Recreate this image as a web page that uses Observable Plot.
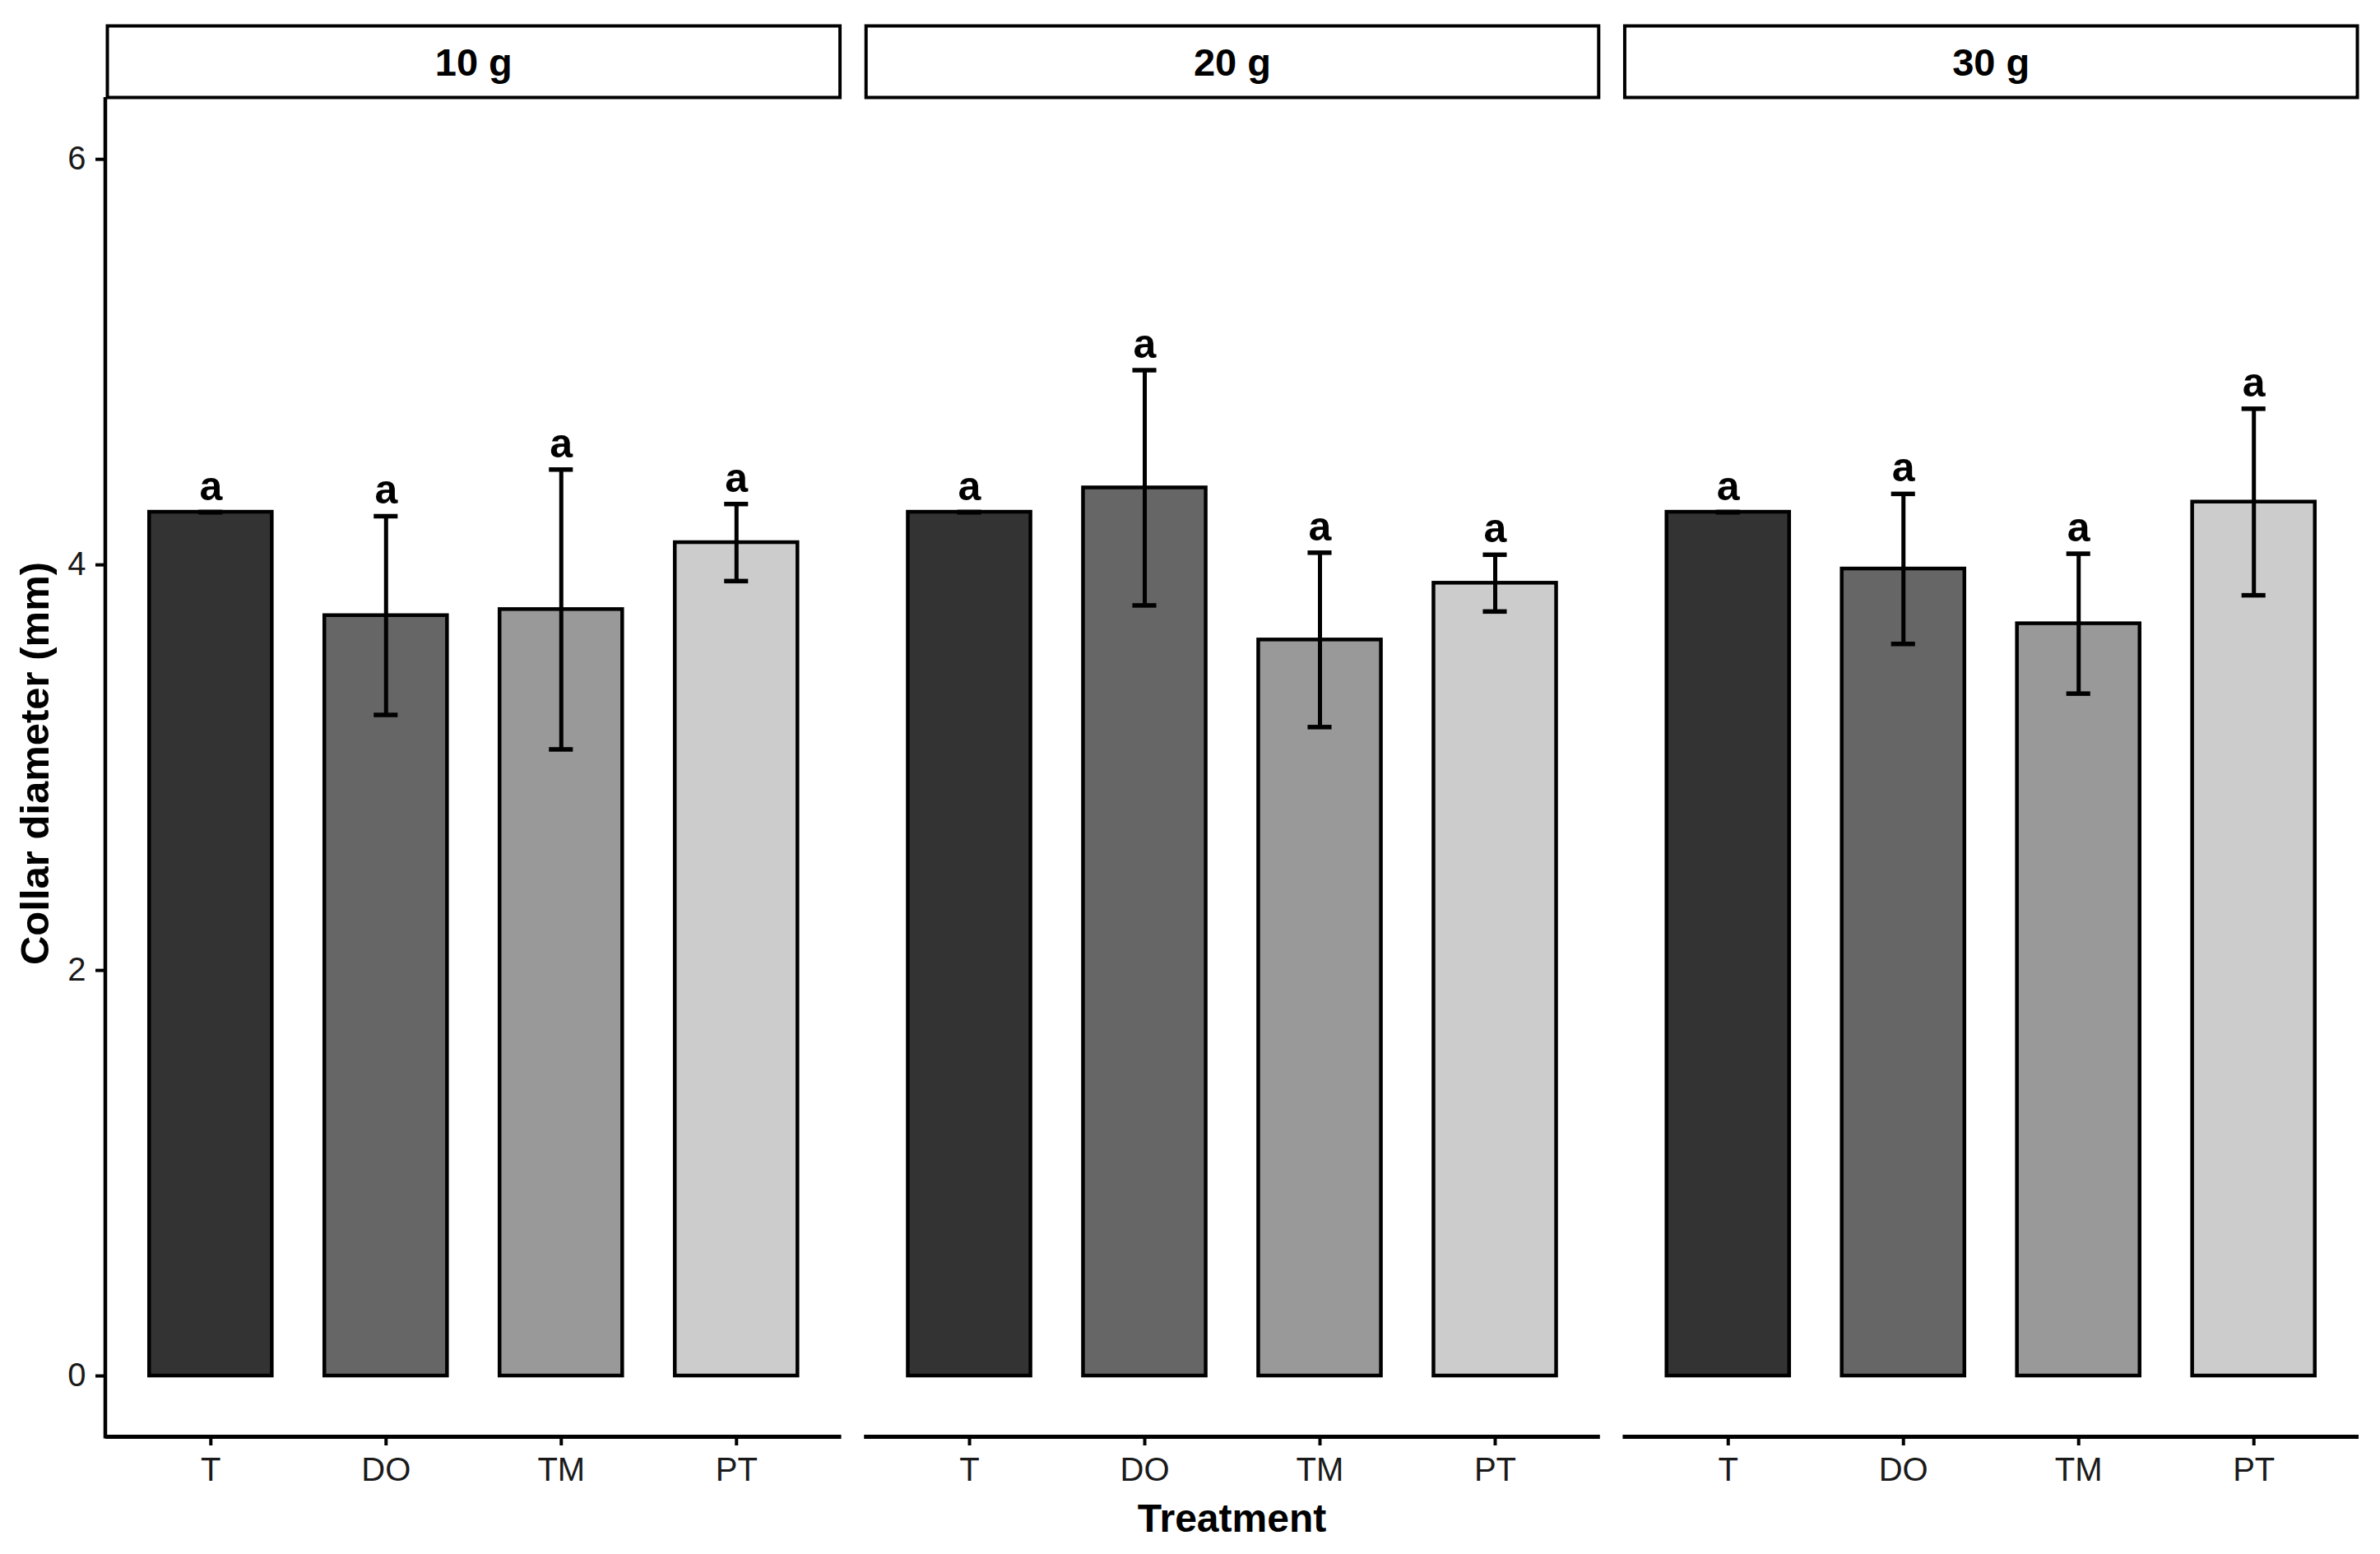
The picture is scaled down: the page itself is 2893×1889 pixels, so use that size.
<!DOCTYPE html>
<html><head><meta charset="utf-8">
<script src="https://cdn.jsdelivr.net/npm/d3@7"></script>
<script src="https://cdn.jsdelivr.net/npm/@observablehq/plot@0.6"></script>
<style>
html,body{margin:0;padding:0;background:#fff;}
#chart svg{display:block;}
</style></head><body><div id="chart"></div>
<script>
// ---- data ----
const doses = ["10 g", "20 g", "30 g"];
const treatments = ["T", "DO", "TM", "PT"];
const fills = ["#333333", "#666666", "#999999", "#cccccc"];
const mean10 = [4.26, 3.75, 3.78, 4.11];
const se10   = [0.0, 0.49, 0.69, 0.19];
const mean20 = [4.26, 4.38, 3.63, 3.91];
const se20   = [0.0, 0.58, 0.43, 0.14];
const mean30 = [4.26, 3.98, 3.71, 4.31];
const se30   = [0.0, 0.37, 0.345, 0.46];
const letters10 = ["a", "a", "a", "a"];
const letters20 = ["a", "a", "a", "a"];
const letters30 = ["a", "a", "a", "a"];
const yTicks = [0, 2, 4, 6];
const yLimits = [-0.3, 6.305];
const xTitle = "Treatment";
const yTitle = "Collar diameter (mm)";

const means = [mean10, mean20, mean30];
const ses = [se10, se20, se30];
const letters = [letters10, letters20, letters30];
const rows = [];
doses.forEach((d, i) => treatments.forEach((t, j) => {
  rows.push({dose: d, trt: t, mean: means[i][j], lo: means[i][j] - ses[i][j], hi: means[i][j] + ses[i][j], letter: letters[i][j]});
}));

// ---- layout ----
const W = 2893, H = 1889, mT = 118, mB = 143, mL = 128, mR = 26;
const font = "'Liberation Sans', Arial, Helvetica, sans-serif";

const chart = Plot.plot({
  width: W, height: H,
  marginTop: mT, marginBottom: mB, marginLeft: mL, marginRight: mR,
  style: {fontFamily: font, background: "white", color: "black", overflow: "visible"},
  fx: {domain: doses, paddingInner: 0.03, paddingOuter: 0, round: false, axis: null, label: null},
  x: {domain: treatments, paddingInner: 0.3, paddingOuter: 0.25, round: false, label: null},
  y: {domain: yLimits, label: null},
  color: {domain: treatments, range: fills},
  marks: [
    // facet strips
    Plot.frame({fill: "white", stroke: "black", strokeWidth: 4, insetTop: -(mT - 31), insetBottom: H - mT - mB, insetLeft: 2, insetRight: 2}),
    Plot.text(doses, {fx: d => d, text: d => d, frameAnchor: "top", lineAnchor: "middle", dy: -42, fontSize: 47, fontWeight: "bold", fill: "black"}),
    // axes
    Plot.ruleY([yLimits[0]], {stroke: "black", strokeWidth: 5}),
    Plot.axisX({tickSize: 11, tickPadding: 14, fontSize: 40, strokeWidth: 4, label: null, fill: "#1a1a1a"}),
    Plot.axisY({ticks: yTicks, tickFormat: d => String(d), tickSize: 12, tickPadding: 12, fontSize: 40, strokeWidth: 4, label: null, fill: "#1a1a1a"}),
    // bars
    Plot.barY(rows, {fx: "dose", x: "trt", y1: 0, y2: "mean", fill: "trt", stroke: "black", strokeWidth: 4.5}),
    // error bars
    Plot.ruleX(rows, {fx: "dose", x: "trt", y1: "lo", y2: "hi", stroke: "black", strokeWidth: 5}),
    Plot.tickY(rows, {fx: "dose", x: "trt", y: "hi", inset: 60, stroke: "black", strokeWidth: 5.5}),
    Plot.tickY(rows, {fx: "dose", x: "trt", y: "lo", inset: 60, stroke: "black", strokeWidth: 5.5}),
    // significance letters
    Plot.text(rows, {fx: "dose", x: "trt", y: "hi", text: "letter", dy: -31, fontSize: 50, fontWeight: "bold", fill: "black"})
  ]
});

document.getElementById("chart").appendChild(chart);

// y axis line (left facet only) and axis titles, positioned from Plot's scales
const svg = d3.select(chart);
const fxS = chart.scale("fx"), yS = chart.scale("y");
const x0 = fxS.apply(doses[0]);
const yTop = yS.apply(yLimits[1]), yBot = yS.apply(yLimits[0]);
svg.append("line")
  .attr("x1", x0).attr("x2", x0).attr("y1", yTop).attr("y2", yBot + 2.5)
  .attr("stroke", "black").attr("stroke-width", 4.5);
svg.append("text")
  .attr("transform", `translate(${x0 - 69},${(yTop + yBot) / 2 - 4}) rotate(-90)`)
  .attr("text-anchor", "middle")
  .attr("font-family", font).attr("font-size", 49).attr("font-weight", "bold").attr("fill", "black")
  .text(yTitle);
svg.append("text")
  .attr("x", (mL + W - mR) / 2).attr("y", yBot + 116)
  .attr("text-anchor", "middle")
  .attr("font-family", font).attr("font-size", 48).attr("font-weight", "bold").attr("fill", "black")
  .text(xTitle);
</script>
</body></html>
